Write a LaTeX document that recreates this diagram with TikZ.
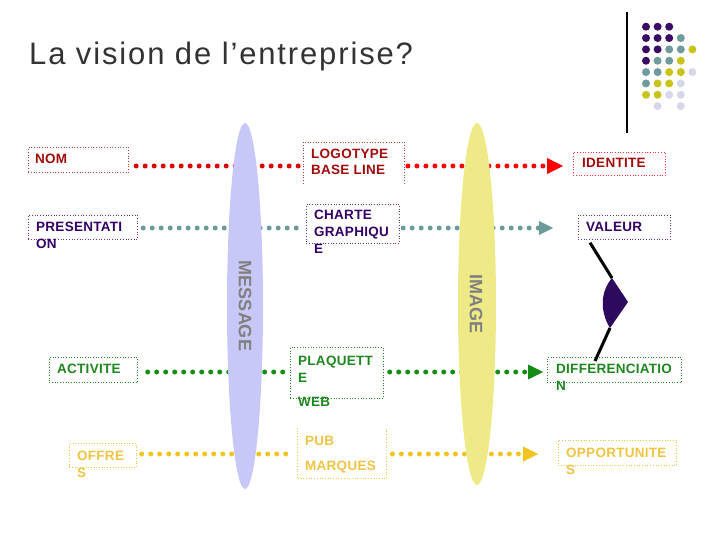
\documentclass[tikz,border=0pt]{standalone}
\usepackage{fontspec}
\setmainfont{Liberation Sans}
\newfontfamily\titlefont[LetterSpace=6]{Liberation Sans}
\newfontfamily\wordfont[LetterSpace=2]{Liberation Sans}
\usetikzlibrary{arrows.meta}
\definecolor{titlegray}{HTML}{333333}
\definecolor{rowred}{HTML}{DD0000}
\definecolor{tipred}{HTML}{FF0000}
\definecolor{textred}{HTML}{A00A0A}
\definecolor{rowteal}{HTML}{6A9A9A}
\definecolor{textpurple}{HTML}{330066}
\definecolor{rowgreen}{HTML}{158C15}
\definecolor{textgreen}{HTML}{1E861E}
\definecolor{rowyellow}{HTML}{F2C420}
\definecolor{textyellow}{HTML}{EEC444}
\definecolor{msgfill}{HTML}{C8C8F8}
\definecolor{imgfill}{HTML}{EEEA88}
\definecolor{axisgray}{HTML}{808080}
\definecolor{logopurple}{HTML}{3A0A64}
\definecolor{logoteal}{HTML}{6F9B9B}
\definecolor{logoyellow}{HTML}{C8C41A}
\definecolor{logolight}{HTML}{D6D7E9}
\definecolor{bracepurple}{HTML}{2E0A5E}

\begin{document}
\begin{tikzpicture}[x=1pt, y=-1pt,
	every node/.style={inner sep=0pt, align=left, font=\wordfont\bfseries\fontsize{13.5}{16.5}\selectfont},
	box/.style={draw=#1, dotted, line width=0.7pt, anchor=north west},
	word/.style={text=#1, anchor=base west},
	dots/.style={draw=#1, line width=5pt, line cap=round, dash pattern=on 0pt off 9pt},
	tip/.style={-{Triangle[length=#1, width=#1, line width=0pt]}},
	axisword/.style={rotate=-90, text=axisgray, font=\bfseries\fontsize{18}{20}\selectfont}]
	\useasboundingbox (0,0) rectangle (720,540);
	\node[anchor=base west, text=titlegray, font=\titlefont\fontsize{31}{36}\selectfont] (title) at (29,65) {La vision de l’entreprise?};
	\draw[line width=1.2pt] (627,12) -- (627,133);
	\foreach \c/\r/\col in {0/0/logopurple,1/0/logopurple,2/0/logopurple,
		0/1/logopurple,1/1/logopurple,2/1/logopurple,3/1/logoteal,
		0/2/logopurple,1/2/logopurple,2/2/logoteal,3/2/logoteal,4/2/logoyellow,
		0/3/logopurple,1/3/logoteal,2/3/logoteal,3/3/logoyellow,
		0/4/logoteal,1/4/logoteal,2/4/logoyellow,3/4/logoyellow,4/4/logolight,
		0/5/logoteal,1/5/logoyellow,2/5/logoyellow,3/5/logolight,
		0/6/logoyellow,1/6/logoyellow,2/6/logolight,3/6/logolight,
		1/7/logolight,3/7/logolight}
		{\fill[\col] (646+11.6*\c, 26.7+11.35*\r) circle (4);}
	% boxes
	\node[box=textred!80, minimum width=100, minimum height=25] (nom) at (28,147) {};
	\node[minimum width=101, minimum height=41, anchor=north west] (logo) at (303,142) {};
	\draw[textred!80, dotted, line width=0.7pt] (logo.south west) -- (logo.north west) -- (logo.north east) -- (logo.south east);
	\node[box=tipred!80, minimum width=92, minimum height=23] (ident) at (573,152) {};
	\node[box=textpurple!80, minimum width=109, minimum height=24] (pres) at (28,215) {};
	\node[box=textpurple!80, minimum width=93, minimum height=39] (charte) at (306,204) {};
	\node[box=textpurple!80, minimum width=92, minimum height=24] (valeur) at (578,215) {};
	\node[box=textgreen, minimum width=88, minimum height=25] (activ) at (49,357) {};
	\node[box=textgreen, minimum width=93, minimum height=51] (plaq) at (290,347) {};
	\node[box=textgreen, minimum width=134, minimum height=25] (diff) at (547,357) {};
	\node[box=textyellow, minimum width=67, minimum height=24] (offre) at (69,443) {};
	\node[minimum width=89, minimum height=50, anchor=north west] (pub) at (297,428) {};
	\draw[textyellow, dotted, line width=0.7pt] (pub.north west) -- (pub.south west) -- (pub.south east) -- (pub.north east);
	\node[box=textyellow, minimum width=118, minimum height=25] (oppo) at (558,440) {};
	% dotted rows
	\coordinate (r1) at (0,166);
	\coordinate (r2) at (0,228);
	\coordinate (r3) at (0,372);
	\coordinate (r4) at (0,454);
	\draw[dots=rowred, shorten <=7.5pt, shorten >=3pt] (nom.east |- r1) -- (logo.west |- r1);
	\draw[dots=rowred, tip=16pt, tipred, shorten <=3.5pt, shorten >=10pt] (logo.east |- r1) -- (ident.west |- r1);
	\draw[dots=rowteal, shorten <=5.5pt, shorten >=3pt] (pres.east |- r2) -- (charte.west |- r2);
	\draw[dots=rowteal, tip=14pt, shorten <=3.5pt, shorten >=25pt] (charte.east |- r2) -- (valeur.west |- r2);
	\draw[dots=rowgreen, shorten <=10pt, shorten >=2pt] (activ.east |- r3) -- (plaq.west |- r3);
	\draw[dots=rowgreen, tip=15pt, shorten <=6pt, shorten >=4pt] (plaq.east |- r3) -- (diff.west |- r3);
	\draw[dots=rowyellow, shorten <=5pt, shorten >=3pt] (offre.east |- r4) -- (pub.west |- r4);
	\draw[dots=rowyellow, tip=15pt, shorten <=6pt, shorten >=20pt] (pub.east |- r4) -- (oppo.west |- r4);
	% lenses
	\fill[msgfill] (245,306) ellipse (18 and 183);
	\fill[imgfill] (477,304) ellipse (19 and 181);
	\node[axisword] (msg) at (245,306) {MESSAGE};
	\node[axisword] (img) at (476,304) {IMAGE};
	% brace
	\coordinate (bt) at (612,278);
	\coordinate (bp) at (628,302);
	\coordinate (bb) at (610,328);
	\fill[bracepurple] (bt) -- (bp) -- (bb) .. controls (600,312) and (600,292) .. (bt);
	\draw[line width=3pt] ([xshift=12pt, yshift=-3pt]valeur.south west) -- (bt);
	\draw[line width=3pt] (bb) -- ([xshift=48pt, yshift=-4pt]diff.north west);
	% words (multi-line ones sit on their last line)
	\node[word=textred] (nomtxt) at (35,164) {NOM};
	\node[word=textred] (logotxt) at (311,175) {LOGOTYPE\\BASE LINE};
	\node[word=textred] (identtxt) at (582,168) {IDENTITE};
	\node[word=textpurple] (prestxt) at (36,248) {PRESENTATI\\ON};
	\node[word=textpurple] (chartetxt) at (314,253) {CHARTE\\GRAPHIQU\\E};
	\node[word=textpurple] (valeurtxt) at (586,232) {VALEUR};
	\node[word=textgreen] (activtxt) at (57,373) {ACTIVITE};
	\node[word=textgreen] (plaqtxt) at (298,382) {PLAQUETT\\E};
	\node[word=textgreen] (webtxt) at (298,406) {WEB};
	\node[word=textgreen] (difftxt) at (556,390) {DIFFERENCIATIO\\N};
	\node[word=textyellow] (offretxt) at (77,477) {OFFRE\\S};
	\node[word=textyellow] (pubtxt) at (305,445) {PUB};
	\node[word=textyellow] (marqtxt) at (305,470) {MARQUES};
	\node[word=textyellow] (oppotxt) at (566,474) {OPPORTUNITE\\S};
\end{tikzpicture}
\end{document}
